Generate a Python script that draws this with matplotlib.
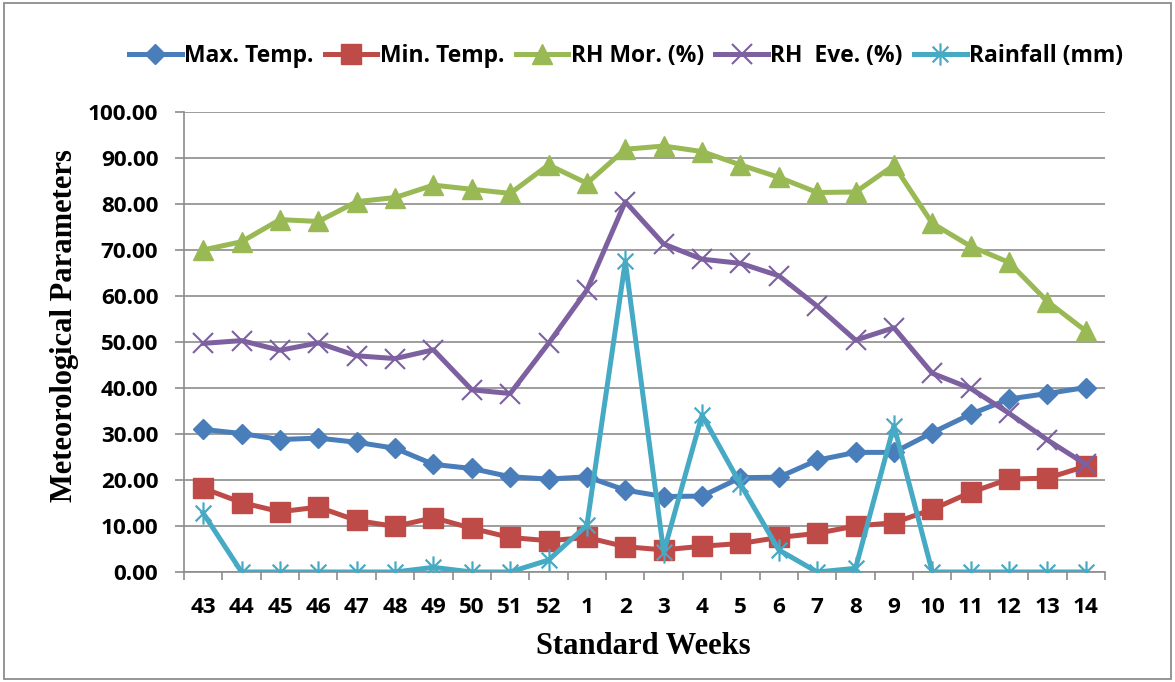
import matplotlib
matplotlib.use("Agg")
import matplotlib.pyplot as plt
from matplotlib.path import Path
from matplotlib.patches import Rectangle
from matplotlib.ticker import FixedLocator, FuncFormatter
from matplotlib.font_manager import FontProperties

# Standard weeks (43-52 of one year, 1-14 of the next)
weeks = ["43", "44", "45", "46", "47", "48", "49", "50", "51", "52",
         "1", "2", "3", "4", "5", "6", "7", "8", "9", "10", "11", "12", "13", "14"]

max_temp = [31.0, 30.1, 28.8, 29.1, 28.2, 26.9, 23.4, 22.5, 20.7, 20.2,
            20.7, 17.8, 16.4, 16.5, 20.5, 20.6, 24.3, 26.0, 26.0, 30.3,
            34.3, 37.6, 38.8, 40.1]
min_temp = [18.2, 15.1, 13.1, 14.1, 11.2, 9.9, 11.8, 9.5, 7.5, 6.8,
            7.5, 5.5, 4.8, 5.6, 6.2, 7.5, 8.4, 10.0, 10.7, 13.6,
            17.3, 20.2, 20.4, 23.0]
rh_mor = [70.0, 71.8, 76.6, 76.2, 80.5, 81.4, 84.1, 83.2, 82.3, 88.5,
          84.5, 91.9, 92.6, 91.4, 88.5, 85.8, 82.5, 82.6, 88.4, 75.8,
          70.8, 67.3, 58.8, 52.4]
rh_eve = [49.7, 50.3, 48.2, 49.8, 47.0, 46.4, 48.3, 39.6, 38.8, 49.7,
          61.3, 80.5, 71.3, 68.0, 67.1, 64.4, 57.8, 50.4, 53.1, 43.2,
          39.9, 34.5, 28.7, 23.4]
rainfall = [12.8, 0.0, 0.0, 0.0, 0.0, 0.0, 1.0, 0.0, 0.0, 2.6,
            10.2, 67.5, 4.3, 34.1, 19.1, 4.8, 0.0, 0.8, 31.8, 0.0,
            0.0, 0.0, 0.0, 0.0]

y_ticks = [0, 10, 20, 30, 40, 50, 60, 70, 80, 90, 100]

series_labels = ["Max. Temp.", "Min. Temp.", "RH Mor. (%)", "RH  Eve. (%)", "Rainfall (mm)"]
colors = ["#4A7EBB", "#BE4B48", "#98B954", "#7D60A0", "#46AAC5"]

# asterisk-style marker: a vertical stroke crossed by an x
d = 0.7071
star = Path([(0, -1), (0, 1), (-d, -d), (d, d), (-d, d), (d, -d)],
            [Path.MOVETO, Path.LINETO, Path.MOVETO, Path.LINETO, Path.MOVETO, Path.LINETO])

grid_col = "#8C8C8C"
tick_fp = FontProperties(family="Open Sans", weight="bold", size=16.2)
legend_fp = FontProperties(family="Open Sans", weight="bold", size=16.5)

fig = plt.figure(figsize=(11.75, 6.82), dpi=100)
fig.patches.append(Rectangle((0.0035, 0.004), 0.9935, 0.9915, transform=fig.transFigure,
                             fill=False, edgecolor="#8C8C8C", linewidth=1.3))

ax = fig.add_axes([0.1566, 0.1613, 0.7838, 0.6745])
x = list(range(len(weeks)))

lw = 3.6
ax.plot(x, max_temp, color=colors[0], lw=lw, marker="D", ms=10.5,
        mfc=colors[0], mec=colors[0], label=series_labels[0], zorder=3)
ax.plot(x, min_temp, color=colors[1], lw=lw, marker="s", ms=14,
        mfc=colors[1], mec=colors[1], label=series_labels[1], zorder=4)
ax.plot(x, rh_mor, color=colors[2], lw=lw, marker="^", ms=14.5,
        mfc=colors[2], mec=colors[2], label=series_labels[2], zorder=5)
ax.plot(x, rh_eve, color=colors[3], lw=lw, marker="x", ms=15,
        mec=colors[3], mew=1.5, label=series_labels[3], zorder=6)
ax.plot(x, rainfall, color=colors[4], lw=lw, marker=star, ms=16,
        mfc="none", mec=colors[4], mew=1.6, label=series_labels[4], zorder=7)

ax.set_xlim(-0.5, len(weeks) - 0.5)
ax.set_ylim(0, 100)

ax.yaxis.set_major_locator(FixedLocator(y_ticks))
ax.yaxis.set_major_formatter(FuncFormatter(lambda v, p: f"{v:.2f}"))
ax.grid(axis="y", color=grid_col, linewidth=1.2, zorder=0)
ax.set_axisbelow(True)

ax.set_xticks(x)
ax.set_xticklabels(weeks)
ax.set_xticks([i - 0.5 for i in range(len(weeks) + 1)], minor=True)
ax.tick_params(axis="x", which="major", length=0, pad=18)
ax.tick_params(axis="x", which="minor", length=6, width=1.2, color=grid_col, direction="out")
ax.tick_params(axis="y", which="major", length=6.5, width=1.2, color=grid_col, direction="out", pad=12)
for lab in ax.get_xticklabels() + ax.get_yticklabels():
    lab.set_fontproperties(tick_fp)

for side in ("top", "right"):
    ax.spines[side].set_visible(False)
for side in ("left", "bottom"):
    ax.spines[side].set_color(grid_col)
    ax.spines[side].set_linewidth(1.2)

fig.text(643 / 1175, 1 - 646 / 682, "Standard Weeks", ha="center", va="center",
         family="Liberation Serif", weight="bold", size=22)
fig.text(65 / 1175, 1 - 326 / 682, "Meteorological Parameters", ha="center", va="center",
         rotation=90, family="Liberation Serif", weight="bold", size=22)

fig.legend(loc="center", bbox_to_anchor=(626 / 1175, 1 - 56 / 682), ncol=5, frameon=False,
           numpoints=1, handlelength=2.3, handletextpad=0.1, columnspacing=0.5,
           prop=legend_fp)

fig.savefig("out.png", dpi=100)
